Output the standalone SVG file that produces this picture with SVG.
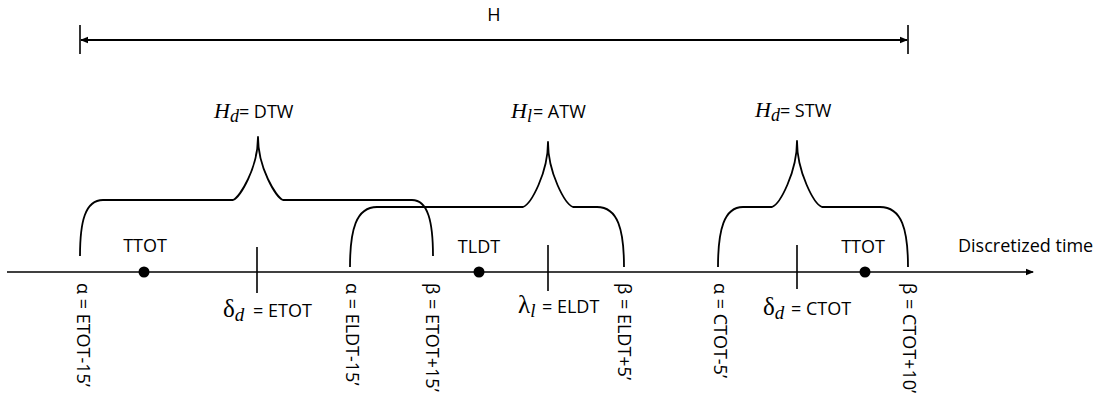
<svg xmlns="http://www.w3.org/2000/svg" width="1106" height="397" viewBox="0 0 1106 397">
  <style>
    .ln { fill: none; stroke: #000; stroke-width: 1.8; }
    .ax { fill: none; stroke: #000; stroke-width: 1.6; }
    .tk { fill: none; stroke: #000; stroke-width: 1.6; }
    .brace { fill: none; stroke: #000; stroke-width: 1.8; stroke-linejoin: round; }
    .dot { fill: #000; }
    .t { font-family: "Open Sans", "Noto Sans", sans-serif; font-size: 18px; fill: #000; }
    .m { font-family: "Liberation Serif", "DejaVu Serif", serif; font-style: italic; fill: #000; }
    .g { font-family: "Liberation Serif", "DejaVu Serif", serif; fill: #000; }
  </style>
  <defs>
    <marker id="arr" viewBox="0 0 8 8" refX="7" refY="4" markerWidth="8" markerHeight="8" markerUnits="userSpaceOnUse" orient="auto-start-reverse">
      <path d="M0,0.8 L8,4 L0,7.2 Z" fill="#000"/>
    </marker>
  </defs>

  <!-- planning horizon H -->
  <g id="horizon">
    <line class="tk" x1="80" y1="25" x2="80" y2="54"/>
    <line class="tk" x1="908" y1="25" x2="908" y2="54"/>
    <line class="ln" x1="81" y1="40" x2="907" y2="40" marker-start="url(#arr)" marker-end="url(#arr)"/>
    <text class="t" x="494" y="21" text-anchor="middle">H</text>
  </g>

  <!-- discretized time axis -->
  <g id="time-axis">
    <line class="ax" x1="7" y1="272" x2="1033" y2="272" marker-end="url(#arr)"/>
    <text class="t" x="958" y="252">Discretized time</text>
  </g>

  <!-- departure time window -->
  <g id="dtw">
    <path class="brace" d="M80,256 C80,222 85,200 103,200 L233,200 C240,197 258,168 258,137 C258,168 276,197 283,200 L412,200 C428,200 433,222 433,256"/>
    <text x="214" y="118"><tspan class="m" font-size="22">H</tspan><tspan class="m" font-size="18" dy="4">d</tspan><tspan class="t" dy="-4">= DTW</tspan></text>
  </g>

  <!-- arrival time window -->
  <g id="atw">
    <path class="brace" d="M350,267 C350,230 356,207 377,207 L523,207 C531,204 548,173 548,142 C548,173 565,204 573,207 L597,207 C618,207 624,230 624,267"/>
    <text x="511" y="118"><tspan class="m" font-size="22">H</tspan><tspan class="m" font-size="18" dy="4">l</tspan><tspan class="t" dx="1" dy="-4">= ATW</tspan></text>
  </g>

  <!-- slot time window -->
  <g id="stw">
    <path class="brace" d="M718,267 C718,230 724,207 743,207 L772,207 C780,204 797,172 797,141 C797,172 814,204 822,207 L880,207 C902,207 908,230 908,267"/>
    <text x="755" y="117"><tspan class="m" font-size="22">H</tspan><tspan class="m" font-size="18" dy="4">d</tspan><tspan class="t" dy="-4">= STW</tspan></text>
  </g>

  <!-- target times -->
  <g id="ttot-dep">
    <circle class="dot" cx="144" cy="272" r="5.5"/>
    <text class="t" x="145" y="252" text-anchor="middle">TTOT</text>
  </g>
  <g id="tldt">
    <circle class="dot" cx="479" cy="272" r="5.5"/>
    <text class="t" x="479" y="253" text-anchor="middle">TLDT</text>
  </g>
  <g id="ttot-slot">
    <circle class="dot" cx="865" cy="272" r="5.5"/>
    <text class="t" x="863" y="253" text-anchor="middle">TTOT</text>
  </g>

  <!-- estimated / calculated times -->
  <g id="etot">
    <line class="tk" x1="257" y1="247" x2="257" y2="293"/>
    <text x="223" y="317"><tspan class="g" font-size="25">δ</tspan><tspan class="m" font-size="19" dy="4">d</tspan><tspan class="t" x="253" dy="-4">= ETOT</tspan></text>
  </g>
  <g id="eldt">
    <line class="tk" x1="548" y1="245" x2="548" y2="291"/>
    <text x="518" y="313"><tspan class="g" font-size="25">λ</tspan><tspan class="m" font-size="19" dy="4">l</tspan><tspan class="t" x="542" dy="-4">= ELDT</tspan></text>
  </g>
  <g id="ctot">
    <line class="tk" x1="797" y1="245" x2="797" y2="289"/>
    <text x="763" y="315"><tspan class="g" font-size="25">δ</tspan><tspan class="m" font-size="19" dy="4">d</tspan><tspan class="t" x="791" dy="-4">= CTOT</tspan></text>
  </g>

  <!-- window bounds -->
  <g id="bounds">
    <text class="t" transform="translate(77,283) rotate(90)">α = ETOT-15’</text>
    <text class="t" transform="translate(346,283) rotate(90)">α = ELDT-15’</text>
    <text class="t" transform="translate(426,283) rotate(90)">β = ETOT+15’</text>
    <text class="t" transform="translate(618,283) rotate(90)">β = ELDT+5’</text>
    <text class="t" transform="translate(714,283) rotate(90)">α = CTOT-5’</text>
    <text class="t" transform="translate(903,283) rotate(90)">β = CTOT+10’</text>
  </g>
</svg>
